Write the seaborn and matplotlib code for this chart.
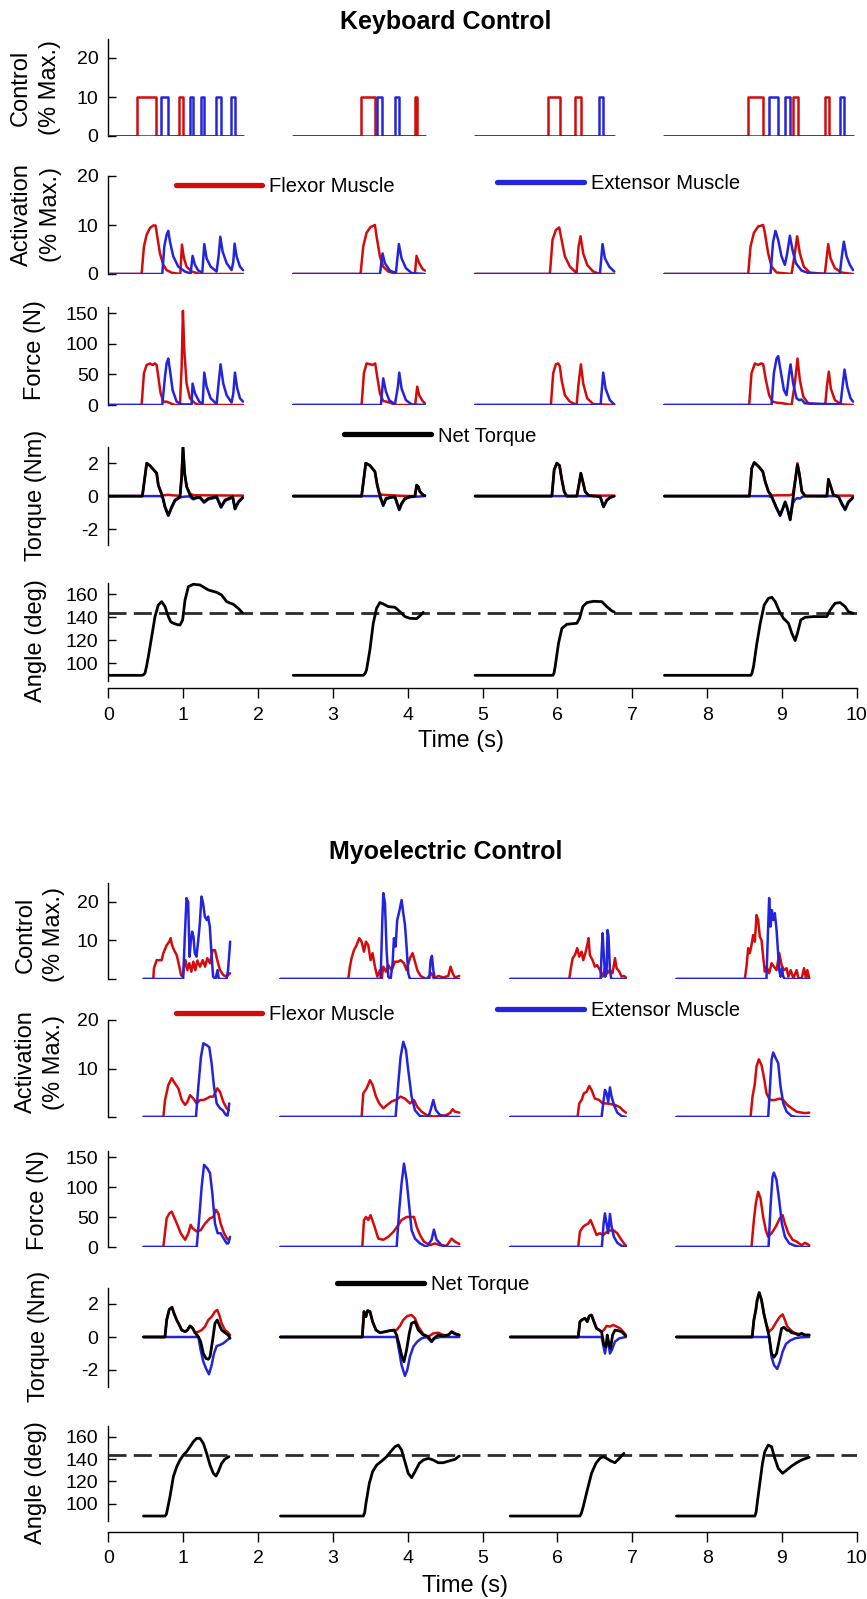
import matplotlib
matplotlib.use("Agg")
import matplotlib.pyplot as plt
import numpy as np
import pandas as pd
import seaborn as sns
from matplotlib.lines import Line2D

# ---------------------------------------------------------------- data
TIME_TICKS = [0, 1, 2, 3, 4, 5, 6, 7, 8, 9, 10]
KB_TRIALS = [(0.0, 1.80), (2.47, 4.23), (4.90, 6.76), (7.43, 9.95)]
MY_TRIALS = [(0.47, 1.63), (2.30, 4.69), (5.37, 6.92), (7.59, 9.36)]
KB_CTRL_LEVEL = 10
KB_TARGET_ANGLE = 144.0
MY_TARGET_ANGLE = 143.5

# keyboard control pulses (on, off) in s
KB_CTRL_FLEX = [[(0.378, 0.632), (0.948, 0.993)],
                [(3.370, 3.562), (4.100, 4.127)],
                [(5.877, 6.029), (6.238, 6.309)],
                [(8.549, 8.749), (9.141, 9.217), (9.573, 9.626)]]
KB_CTRL_EXT = [[(0.703, 0.793), (1.091, 1.126), (1.238, 1.278), (1.434, 1.500), (1.638, 1.692)],
               [(3.584, 3.660), (3.833, 3.878)],
               [(6.558, 6.612)],
               [(8.829, 8.949), (9.039, 9.106), (9.769, 9.827)]]

# keyboard activation (% max)
KB_ACT_FLEX_1 = [(0, 0), (0.445, 0), (0.476, 5.6), (0.512, 8.0), (0.557, 9.4), (0.601, 9.9), (0.632, 9.9), (0.654, 7.7), (0.69, 4.2), (0.735, 1.85), (0.779, 0.8), (0.846, 0.27), (0.962, 0), (0.984, 6.0), (1.011, 3.2), (1.046, 1.5), (1.113, 0.5), (1.224, 0), (1.80, 0)]
KB_ACT_EXT_1 = [(0, 0), (0.721, 0), (0.748, 5.6), (0.779, 8.0), (0.801, 8.8), (0.824, 6.6), (0.868, 3.6), (0.935, 1.5), (1.024, 0.5), (1.1, 0.1), (1.126, 3.7), (1.158, 1.85), (1.202, 0.7), (1.256, 0.3), (1.282, 6.1), (1.313, 3.2), (1.367, 1.5), (1.447, 0.5), (1.478, 4.2), (1.496, 7.6), (1.527, 4.6), (1.581, 2.2), (1.647, 0.8), (1.67, 2.5), (1.687, 6.2), (1.714, 3.6), (1.759, 1.5), (1.80, 0.8)]
KB_ACT_FLEX_2 = [(2.47, 0), (3.37, 0), (3.406, 5.6), (3.45, 8.4), (3.504, 9.6), (3.562, 10.0), (3.584, 7.7), (3.629, 3.6), (3.673, 1.5), (3.74, 0.5), (3.851, 0), (4.096, 0), (4.118, 3.7), (4.154, 2.2), (4.199, 1.0), (4.23, 0.7)]
KB_ACT_EXT_2 = [(2.47, 0), (3.629, 0), (3.664, 4.2), (3.695, 2.2), (3.762, 0.7), (3.842, 0.2), (3.882, 6.1), (3.918, 3.2), (3.976, 1.2), (4.052, 0.2), (4.23, 0)]
KB_ACT_FLEX_3 = [(4.90, 0), (5.90, 0), (5.935, 7.0), (5.98, 9.0), (6.024, 9.5), (6.056, 7.0), (6.1, 3.6), (6.167, 1.5), (6.234, 0.5), (6.256, 0.2), (6.283, 5.6), (6.309, 7.7), (6.345, 4.2), (6.398, 1.85), (6.478, 0.5), (6.568, 0), (6.76, 0)]
KB_ACT_EXT_3 = [(4.90, 0), (6.568, 0), (6.603, 6.1), (6.635, 3.2), (6.693, 1.5), (6.76, 0.5)]
KB_ACT_FLEX_4 = [(7.43, 0), (8.549, 0), (8.58, 5.6), (8.625, 8.4), (8.682, 9.7), (8.749, 10.0), (8.772, 8.4), (8.816, 4.2), (8.861, 1.5), (8.928, 0.3), (9.128, 0), (9.172, 4.2), (9.203, 7.7), (9.239, 4.2), (9.292, 1.5), (9.372, 0.3), (9.573, 0), (9.618, 6.1), (9.649, 3.2), (9.707, 1.2), (9.796, 0.3), (9.95, 0)]
KB_ACT_EXT_4 = [(7.43, 0), (8.847, 0), (8.882, 6.6), (8.914, 8.8), (8.949, 7.0), (8.994, 3.6), (9.039, 1.85), (9.07, 4.2), (9.106, 7.8), (9.141, 4.9), (9.186, 2.2), (9.262, 0.7), (9.372, 0.1), (9.773, 0), (9.8, 3.6), (9.827, 6.6), (9.863, 3.6), (9.908, 1.85), (9.95, 0.8)]

# keyboard force (N)
KB_FORCE_FLEX_1 = [(0, 0), (0.445, 0), (0.476, 52), (0.512, 65.5), (0.557, 68), (0.592, 65.5), (0.623, 68), (0.646, 65.5), (0.668, 46), (0.699, 19), (0.735, 5.5), (0.779, 5.5), (0.833, 2.7), (0.89, 0), (0.957, 0), (0.98, 63), (0.997, 154), (1.015, 90), (1.046, 35), (1.091, 11), (1.158, 2.7), (1.224, 0), (1.80, 0)]
KB_FORCE_EXT_1 = [(0, 0), (0.721, 0), (0.757, 46), (0.779, 68), (0.801, 76), (0.824, 57), (0.859, 24.5), (0.913, 5.5), (0.98, 1), (1.113, 1), (1.126, 35), (1.158, 19), (1.215, 5.5), (1.26, 1.5), (1.282, 53), (1.313, 30), (1.367, 11), (1.447, 1.5), (1.473, 35), (1.5, 66.5), (1.536, 35), (1.581, 16), (1.647, 4), (1.67, 19), (1.692, 53), (1.723, 27), (1.759, 11), (1.80, 5.5)]
KB_FORCE_FLEX_2 = [(2.47, 0), (3.384, 0), (3.415, 52), (3.45, 68), (3.504, 66.5), (3.53, 65.5), (3.566, 68), (3.593, 46), (3.629, 19), (3.673, 6.5), (3.718, 5.5), (3.785, 2.7), (3.851, 0), (4.1, 0), (4.127, 30), (4.154, 16), (4.199, 6.5), (4.23, 2.7)]
KB_FORCE_EXT_2 = [(2.47, 0), (3.642, 0), (3.673, 43.6), (3.709, 22), (3.753, 8), (3.829, 1), (3.869, 30), (3.887, 53), (3.918, 27), (3.976, 8), (4.052, 1), (4.23, 0)]
KB_FORCE_FLEX_3 = [(4.90, 0), (5.913, 0), (5.944, 52), (5.98, 67), (6.011, 68), (6.033, 63), (6.056, 41), (6.1, 16), (6.167, 5.5), (6.256, 0), (6.283, 35), (6.314, 66.5), (6.345, 35), (6.398, 11), (6.478, 1.5), (6.76, 0)]
KB_FORCE_EXT_3 = [(4.90, 0), (6.577, 0), (6.612, 53), (6.643, 27), (6.701, 8), (6.76, 1)]
KB_FORCE_FLEX_4 = [(7.43, 0), (8.562, 0), (8.593, 52), (8.638, 68), (8.682, 65.5), (8.718, 68), (8.749, 67), (8.785, 41), (8.829, 16), (8.874, 5.5), (8.928, 3.8), (9.017, 2.7), (9.128, 0), (9.172, 35), (9.208, 76), (9.239, 41), (9.284, 14), (9.351, 2.7), (9.578, 0), (9.6, 30), (9.626, 54.5), (9.653, 27), (9.707, 8), (9.796, 1), (9.95, 0)]
KB_FORCE_EXT_4 = [(7.43, 0), (8.861, 0), (8.892, 52), (8.928, 76), (8.95, 80), (8.981, 57), (9.026, 24.5), (9.061, 16), (9.097, 52), (9.115, 66.5), (9.15, 35), (9.195, 11), (9.23, 8), (9.262, 9), (9.306, 2.7), (9.782, 1), (9.809, 30), (9.836, 58), (9.872, 30), (9.916, 11), (9.95, 5.5)]

# keyboard torque (Nm)
KB_TORQ_FLEX_1 = [(0, 0), (0.455, 0), (0.513, 2.0), (0.557, 1.85), (0.624, 1.5), (0.646, 1.4), (0.668, 0.67), (0.70, 0.27), (0.726, 0.05), (0.758, 0.06), (0.80, 0.08), (0.85, 0.05), (0.958, 0.02), (0.980, 1.18), (0.998, 2.98), (1.020, 1.37), (1.047, 0.57), (1.092, 0.15), (1.136, 0.06), (1.2, 0.05), (1.80, 0.03)]
KB_TORQ_EXT_1 = [(0, 0), (0.70, 0), (0.726, -0.1), (0.758, -0.7), (0.802, -1.2), (0.847, -0.7), (0.891, -0.3), (0.958, -0.08), (1.02, -0.03), (1.092, -0.02), (1.11, -0.12), (1.136, -0.2), (1.181, -0.12), (1.225, -0.1), (1.279, -0.4), (1.336, -0.2), (1.448, -0.08), (1.506, -0.7), (1.559, -0.3), (1.662, -0.08), (1.693, -0.8), (1.737, -0.4), (1.795, -0.12)]
KB_TORQ_NET_1 = [(0, 0), (0.455, 0), (0.513, 2.0), (0.557, 1.85), (0.624, 1.5), (0.646, 1.4), (0.668, 0.67), (0.70, 0.27), (0.726, -0.04), (0.758, -0.65), (0.802, -1.16), (0.847, -0.65), (0.891, -0.24), (0.958, -0.04), (0.980, 1.18), (0.998, 2.98), (1.020, 1.37), (1.047, 0.57), (1.092, 0.06), (1.136, -0.14), (1.181, -0.08), (1.225, -0.08), (1.279, -0.35), (1.336, -0.14), (1.448, -0.04), (1.506, -0.65), (1.559, -0.24), (1.662, -0.04), (1.693, -0.76), (1.737, -0.35), (1.795, -0.08)]
KB_TORQ_FLEX_2 = [(2.47, 0), (3.384, 0), (3.44, 2.0), (3.495, 1.86), (3.562, 1.49), (3.593, 0.67), (3.62, 0.2), (3.65, 0.08), (3.75, 0.06), (3.9, 0.02), (4.097, 0), (4.12, 0.67), (4.141, 0.57), (4.163, 0.27), (4.207, 0.06), (4.23, 0.03)]
KB_TORQ_EXT_2 = [(2.47, 0), (3.62, 0), (3.65, -0.3), (3.673, -0.6), (3.709, -0.2), (3.763, -0.1), (3.83, -0.05), (3.86, -0.5), (3.887, -0.85), (3.918, -0.5), (3.963, -0.18), (4.03, -0.06), (4.23, 0)]
KB_TORQ_NET_2 = [(2.47, 0), (3.384, 0), (3.44, 2.0), (3.495, 1.86), (3.562, 1.49), (3.593, 0.67), (3.62, 0.16), (3.65, -0.24), (3.673, -0.55), (3.709, -0.14), (3.763, -0.08), (3.83, -0.04), (3.86, -0.45), (3.887, -0.8), (3.918, -0.45), (3.963, -0.14), (4.03, -0.04), (4.097, 0), (4.12, 0.67), (4.141, 0.57), (4.163, 0.27), (4.207, 0.06), (4.23, 0.03)]
KB_TORQ_FLEX_3 = [(4.90, 0), (5.926, 0), (5.957, 1.6), (5.993, 2.0), (6.028, 1.86), (6.06, 0.98), (6.091, 0.27), (6.126, 0), (6.26, 0), (6.291, 0.78), (6.313, 1.39), (6.34, 0.88), (6.371, 0.27), (6.416, 0.04), (6.5, 0.03), (6.759, 0.03)]
KB_TORQ_EXT_3 = [(4.90, 0), (6.572, 0), (6.616, -0.65), (6.66, -0.25), (6.705, -0.08), (6.759, 0)]
KB_TORQ_NET_3 = [(4.90, 0), (5.926, 0), (5.957, 1.6), (5.993, 2.0), (6.028, 1.86), (6.06, 0.98), (6.091, 0.27), (6.126, 0), (6.26, 0), (6.291, 0.78), (6.313, 1.39), (6.34, 0.88), (6.371, 0.27), (6.416, 0.04), (6.572, -0.04), (6.616, -0.65), (6.66, -0.25), (6.705, -0.08), (6.759, 0)]
KB_TORQ_FLEX_4 = [(7.43, 0), (8.566, 0), (8.597, 1.7), (8.63, 2.04), (8.688, 1.8), (8.744, 1.49), (8.776, 0.88), (8.82, 0.27), (8.865, 0.04), (8.95, 0.05), (9.1, 0.05), (9.145, 0.1), (9.176, 0.95), (9.207, 2.0), (9.234, 1.35), (9.266, 0.3), (9.31, 0.02), (9.6, 0), (9.621, 1.02), (9.653, 0.57), (9.688, 0.06), (9.755, 0.03), (9.95, 0.03)]
KB_TORQ_EXT_4 = [(7.43, 0), (8.82, 0), (8.865, -0.08), (8.922, -0.7), (8.976, -1.2), (9.01, -0.8), (9.043, -0.4), (9.074, -0.8), (9.11, -1.45), (9.145, -0.45), (9.176, -0.2), (9.207, -0.12), (9.24, -0.15), (9.27, -0.05), (9.31, 0), (9.755, 0), (9.80, -0.5), (9.844, -0.85), (9.888, -0.4), (9.947, -0.12)]
KB_TORQ_NET_4 = [(7.43, 0), (8.566, 0), (8.597, 1.7), (8.63, 2.04), (8.688, 1.8), (8.744, 1.49), (8.776, 0.88), (8.82, 0.27), (8.865, -0.04), (8.922, -0.65), (8.976, -1.16), (9.01, -0.76), (9.043, -0.35), (9.074, -0.76), (9.11, -1.43), (9.145, -0.24), (9.176, 0.88), (9.207, 1.9), (9.234, 1.29), (9.266, 0.27), (9.31, 0), (9.6, 0), (9.621, 1.02), (9.653, 0.57), (9.688, 0.06), (9.755, -0.04), (9.80, -0.45), (9.844, -0.8), (9.888, -0.35), (9.947, -0.08)]

# keyboard elbow angle (deg)
KB_ANGLE_1 = [(0, 89.5), (0.446, 89.5), (0.47, 90.0), (0.49, 91.3), (0.51, 97.0), (0.535, 105.8), (0.58, 123.2), (0.624, 140.6), (0.668, 150.7), (0.713, 153.6), (0.758, 149.3), (0.802, 140.6), (0.835, 136.0), (0.869, 134.8), (0.93, 133.5), (0.958, 133.3), (0.993, 137.7), (1.025, 155.0), (1.07, 166.7), (1.136, 168.7), (1.225, 168.1), (1.336, 163.8), (1.448, 161.7), (1.514, 159.4), (1.581, 153.6), (1.67, 151.3), (1.737, 147.8), (1.79, 144.1)]
KB_ANGLE_2 = [(2.47, 89.5), (3.406, 89.5), (3.43, 91.0), (3.45, 94.2), (3.495, 111.6), (3.54, 134.8), (3.584, 147.8), (3.628, 152.8), (3.673, 151.6), (3.74, 149.3), (3.83, 148.7), (3.896, 144.9), (3.963, 140.6), (4.03, 139.1), (4.119, 138.8), (4.163, 141.2), (4.207, 144.3)]
KB_ANGLE_3 = [(4.90, 89.5), (5.94, 89.5), (5.955, 91.5), (5.97, 97.1), (6.015, 117.4), (6.06, 130.4), (6.126, 133.9), (6.26, 134.8), (6.296, 139.1), (6.34, 149.3), (6.394, 152.8), (6.483, 153.9), (6.594, 153.6), (6.66, 149.3), (6.728, 145.5), (6.759, 144.6)]
KB_ANGLE_4 = [(7.43, 89.5), (8.585, 89.5), (8.60, 91.5), (8.62, 97.1), (8.665, 117.4), (8.71, 134.8), (8.763, 150.7), (8.82, 156.5), (8.865, 157.4), (8.91, 153.6), (8.968, 144.9), (9.02, 139.1), (9.087, 134.8), (9.132, 126.1), (9.176, 119.7), (9.207, 126.1), (9.252, 137.7), (9.31, 140.0), (9.421, 140.6), (9.6, 140.6), (9.644, 146.4), (9.71, 152.2), (9.777, 152.8), (9.844, 149.3), (9.888, 144.9), (9.947, 143.5)]

# myoelectric control (% max)
MY_CTRL_FLEX_1 = [(0.47, 0), (0.601, 0), (0.61, 2.8), (0.646, 4.9), (0.713, 4.9), (0.735, 6.7), (0.78, 8.8), (0.815, 9.7), (0.833, 10.6), (0.851, 8.8), (0.878, 7.5), (0.914, 6.2), (0.949, 3.2), (0.972, 1.0), (0.994, 0.6), (1.012, 3.2), (1.03, 4.9), (1.056, 2.3), (1.083, 4.1), (1.11, 1.9), (1.136, 4.5), (1.163, 2.3), (1.19, 4.8), (1.225, 3.2), (1.261, 4.9), (1.292, 3.2), (1.323, 5.4), (1.359, 4.1), (1.394, 7.5), (1.425, 7.5), (1.456, 4.9), (1.492, 2.3), (1.537, 1.0), (1.581, 0.6), (1.626, 1.5)]
MY_CTRL_EXT_1 = [(0.47, 0), (1.0, 0), (1.022, 11), (1.045, 21), (1.067, 20), (1.085, 5.8), (1.103, 10), (1.12, 12.3), (1.138, 11), (1.156, 6.7), (1.178, 5.8), (1.2, 9.7), (1.223, 14.5), (1.245, 21.4), (1.267, 19.6), (1.29, 16.2), (1.316, 15.3), (1.334, 16.2), (1.356, 13.6), (1.378, 6.7), (1.4, 0.6), (1.432, 0), (1.459, 2.3), (1.476, 0), (1.579, 0), (1.6, 2.3), (1.628, 9.7)]
MY_CTRL_FLEX_2 = [(2.30, 0), (3.206, 0), (3.228, 3.2), (3.25, 5.4), (3.282, 7.5), (3.317, 8.8), (3.353, 10.6), (3.384, 9.7), (3.416, 7.1), (3.442, 9.7), (3.473, 8.8), (3.504, 4.9), (3.531, 6.7), (3.562, 3.2), (3.594, 0.6), (3.63, 2.3), (3.652, 0), (3.674, 3.2), (3.709, 1.9), (3.74, 3.6), (3.785, 2.3), (3.83, 4.5), (3.874, 4.5), (3.905, 4.9), (3.95, 4.1), (3.985, 2.3), (4.03, 5.4), (4.065, 6.7), (4.097, 4.5), (4.128, 2.3), (4.172, 0.8), (4.208, 0.4), (4.253, 0), (4.319, 1.5), (4.35, 0), (4.408, 0.8), (4.475, 0.4), (4.542, 0.8), (4.573, 3.2), (4.6, 1.5), (4.631, 0.4), (4.689, 0.8)]
MY_CTRL_EXT_2 = [(2.30, 0), (3.638, 0), (3.661, 15.3), (3.674, 22.3), (3.696, 19.7), (3.718, 7.5), (3.74, 0.6), (3.772, 0), (3.798, 4.1), (3.816, 10.6), (3.838, 8.4), (3.86, 15.3), (3.887, 17.5), (3.918, 20.5), (3.941, 17.1), (3.963, 14.1), (3.985, 8.4), (4.007, 1.5), (4.03, 0), (4.288, 0), (4.306, 4.9), (4.324, 6.0), (4.342, 2.3), (4.364, 0), (4.689, 0)]
MY_CTRL_FLEX_3 = [(5.37, 0), (6.158, 0), (6.176, 2.3), (6.203, 5.4), (6.234, 6.2), (6.265, 8.0), (6.292, 5.8), (6.323, 7.1), (6.345, 4.9), (6.372, 6.6), (6.399, 8.8), (6.416, 10.6), (6.434, 6.2), (6.47, 4.9), (6.501, 3.2), (6.532, 3.6), (6.568, 2.3), (6.604, 0.6), (6.639, 3.2), (6.666, 1.5), (6.702, 2.3), (6.737, 1.5), (6.769, 5.4), (6.791, 2.8), (6.827, 1.9), (6.858, 0.6), (6.889, 0.8), (6.915, 0.4)]
MY_CTRL_EXT_3 = [(5.37, 0), (6.577, 0), (6.59, 6.6), (6.604, 11.9), (6.621, 5.8), (6.639, 0.6), (6.657, 1.5), (6.67, 12.7), (6.683, 11.0), (6.702, 2.3), (6.72, 0), (6.915, 0)]
MY_CTRL_FLEX_4 = [(7.59, 0), (8.504, 0), (8.526, 3.2), (8.549, 8.0), (8.571, 6.7), (8.593, 8.8), (8.615, 11.4), (8.638, 9.7), (8.66, 16.6), (8.682, 15.3), (8.704, 11.0), (8.727, 10.1), (8.749, 5.8), (8.771, 1.9), (8.793, 3.2), (8.829, 1.5), (8.861, 4.1), (8.893, 3.2), (8.928, 2.3), (8.964, 6.7), (8.995, 3.6), (9.027, 2.3), (9.063, 2.8), (9.085, 0.6), (9.117, 2.3), (9.152, 0.2), (9.197, 2.3), (9.219, 0.2), (9.264, 0.2), (9.295, 2.8), (9.321, 0.2), (9.339, 2.3), (9.364, 0.2)]
MY_CTRL_EXT_4 = [(7.59, 0), (8.793, 0), (8.811, 11.0), (8.829, 21.0), (8.847, 13.6), (8.865, 17.9), (8.883, 15.3), (8.905, 17.1), (8.928, 12.7), (8.946, 7.5), (8.964, 2.3), (8.982, 0.6), (9.0, 2.8), (9.018, 0.6), (9.04, 0), (9.364, 0)]

# myoelectric activation (% max)
MY_ACT_FLEX_1 = [(0.47, 0), (0.735, 0), (0.758, 3.5), (0.802, 6.6), (0.847, 8.0), (0.891, 6.9), (0.936, 5.9), (0.981, 3.5), (1.026, 2.5), (1.056, 3.1), (1.092, 4.5), (1.136, 3.8), (1.181, 2.8), (1.225, 3.5), (1.27, 3.5), (1.314, 3.8), (1.359, 4.2), (1.403, 4.2), (1.456, 5.9), (1.492, 5.2), (1.537, 3.1), (1.581, 1.8), (1.612, 1.4)]
MY_ACT_EXT_1 = [(0.47, 0), (1.171, 0), (1.203, 6.3), (1.238, 12.4), (1.27, 15.2), (1.314, 14.8), (1.349, 14.4), (1.38, 11.1), (1.412, 6.3), (1.448, 2.8), (1.492, 1.8), (1.528, 1.4), (1.572, 0.4), (1.594, 0.3), (1.616, 2.8)]
MY_ACT_FLEX_2 = [(2.30, 0), (3.384, 0), (3.407, 4.9), (3.451, 5.9), (3.496, 7.6), (3.531, 6.6), (3.576, 4.2), (3.62, 2.8), (3.674, 1.8), (3.727, 2.5), (3.785, 3.2), (3.852, 3.6), (3.905, 4.2), (3.963, 3.8), (4.03, 2.8), (4.084, 3.5), (4.128, 2.1), (4.186, 1.1), (4.253, 0.4), (4.342, 0.1), (4.431, 0.2), (4.498, 0.3), (4.565, 0.8), (4.6, 1.6), (4.631, 1.1), (4.689, 0.9)]
MY_ACT_EXT_2 = [(2.30, 0), (3.838, 0), (3.874, 6.9), (3.905, 12.4), (3.941, 15.5), (3.977, 13.8), (4.007, 9.7), (4.052, 4.2), (4.097, 1.4), (4.163, 0.2), (4.275, 0), (4.306, 1.4), (4.342, 3.5), (4.377, 1.4), (4.431, 0.4), (4.565, 0), (4.689, 0)]
MY_ACT_FLEX_3 = [(5.37, 0), (6.269, 0), (6.292, 2.8), (6.323, 3.5), (6.354, 4.9), (6.39, 5.2), (6.425, 6.4), (6.456, 5.6), (6.501, 3.8), (6.559, 3.5), (6.604, 2.8), (6.648, 2.8), (6.702, 2.7), (6.769, 2.5), (6.836, 2.0), (6.88, 1.3), (6.915, 0.9)]
MY_ACT_EXT_3 = [(5.37, 0), (6.59, 0), (6.612, 2.8), (6.635, 5.6), (6.657, 4.9), (6.679, 3.1), (6.702, 6.1), (6.724, 4.2), (6.755, 2.5), (6.8, 0.9), (6.858, 0.2), (6.915, 0)]
MY_ACT_FLEX_4 = [(7.59, 0), (8.58, 0), (8.607, 4.2), (8.638, 6.9), (8.66, 10.4), (8.691, 11.9), (8.727, 10.7), (8.758, 8.3), (8.793, 4.9), (8.838, 3.5), (8.905, 3.5), (8.972, 3.8), (9.018, 3.5), (9.071, 2.5), (9.129, 1.8), (9.196, 1.1), (9.263, 0.9), (9.308, 0.8), (9.364, 0.9)]
MY_ACT_EXT_4 = [(7.59, 0), (8.816, 0), (8.838, 5.6), (8.861, 11.8), (8.883, 13.3), (8.918, 12.1), (8.95, 11.1), (8.981, 6.3), (9.018, 2.8), (9.063, 1.1), (9.129, 0.2), (9.196, 0), (9.364, 0)]

# myoelectric force (N)
MY_FORCE_FLEX_1 = [(0.47, 0), (0.735, 0), (0.78, 48), (0.815, 56), (0.847, 59), (0.878, 50), (0.923, 37), (0.967, 23), (1.026, 12), (1.07, 23), (1.1, 37), (1.127, 31), (1.181, 26), (1.234, 28), (1.292, 39), (1.359, 48), (1.403, 50), (1.438, 62), (1.47, 56), (1.501, 39), (1.546, 23), (1.59, 13), (1.616, 12)]
MY_FORCE_EXT_1 = [(0.47, 0), (1.181, 0), (1.216, 50), (1.247, 100), (1.279, 137), (1.323, 131), (1.359, 123), (1.39, 89), (1.425, 39), (1.461, 23), (1.501, 23), (1.528, 17), (1.581, 6), (1.603, 6), (1.626, 17)]
MY_FORCE_FLEX_2 = [(2.30, 0), (3.393, 0), (3.416, 45), (3.442, 50), (3.473, 45), (3.504, 53), (3.549, 37), (3.607, 14), (3.674, 12), (3.74, 17), (3.807, 25), (3.86, 34), (3.918, 45), (3.985, 50), (4.039, 50), (4.084, 50), (4.119, 34), (4.164, 20), (4.217, 9), (4.297, 3), (4.364, 6), (4.431, 3), (4.52, 2), (4.587, 14), (4.631, 9), (4.689, 5)]
MY_FORCE_EXT_2 = [(2.30, 0), (3.852, 0), (3.887, 62), (3.918, 106), (3.95, 139), (3.985, 112), (4.021, 67), (4.052, 28), (4.097, 14), (4.164, 6), (4.253, 0), (4.319, 12), (4.35, 29), (4.386, 12), (4.453, 3), (4.53, 0), (4.689, 0)]
MY_FORCE_FLEX_3 = [(5.37, 0), (6.278, 0), (6.301, 25.5), (6.345, 34), (6.381, 37), (6.412, 39), (6.443, 45), (6.479, 34), (6.523, 20), (6.568, 23), (6.612, 20), (6.679, 27), (6.746, 28), (6.8, 23), (6.844, 14), (6.889, 6), (6.915, 2)]
MY_FORCE_EXT_3 = [(5.37, 0), (6.594, 0), (6.617, 39), (6.635, 56), (6.657, 39), (6.679, 23), (6.702, 55), (6.724, 34), (6.755, 17), (6.8, 7), (6.858, 2), (6.915, 0)]
MY_FORCE_FLEX_4 = [(7.59, 0), (8.593, 0), (8.625, 45), (8.651, 73), (8.682, 92), (8.714, 81), (8.749, 50), (8.785, 28), (8.816, 17), (8.861, 23), (8.918, 34), (8.972, 48), (9.009, 53), (9.04, 39), (9.085, 23), (9.143, 12), (9.196, 9), (9.263, 3), (9.308, 7), (9.364, 3)]
MY_FORCE_EXT_4 = [(7.59, 0), (8.821, 0), (8.847, 67), (8.874, 117), (8.892, 124), (8.927, 112), (8.963, 78), (8.999, 39), (9.04, 17), (9.098, 6), (9.174, 2), (9.25, 0), (9.364, 0)]

# myoelectric torque (Nm)
MY_TORQ_FLEX_1 = [(0.47, 0), (0.757, 0), (0.78, 1.03), (0.815, 1.68), (0.851, 1.8), (0.878, 1.43), (0.914, 1.03), (0.949, 0.73), (0.981, 0.42), (1.026, 0.32), (1.056, 0.42), (1.092, 0.67), (1.127, 0.53), (1.158, 0.26), (1.203, 0.32), (1.247, 0.42), (1.292, 0.63), (1.336, 1.03), (1.381, 1.23), (1.425, 1.54), (1.456, 1.64), (1.483, 1.33), (1.514, 0.83), (1.559, 0.42), (1.603, 0.26), (1.626, 0.12)]
MY_TORQ_EXT_1 = [(0.47, 0), (1.203, 0), (1.234, -0.79), (1.27, -1.5), (1.305, -1.9), (1.345, -2.26), (1.381, -1.7), (1.412, -1.0), (1.448, -0.55), (1.492, -0.48), (1.537, -0.38), (1.581, -0.22), (1.626, -0.04)]
MY_TORQ_NET_1 = [(0.47, 0), (0.757, 0), (0.78, 1.03), (0.815, 1.68), (0.851, 1.8), (0.878, 1.43), (0.914, 1.03), (0.949, 0.73), (0.981, 0.42), (1.026, 0.32), (1.056, 0.42), (1.092, 0.67), (1.127, 0.53), (1.158, 0.26), (1.203, 0.02), (1.234, -0.28), (1.27, -1.0), (1.305, -1.3), (1.336, -1.35), (1.359, -1.2), (1.394, -0.18), (1.425, 0.83), (1.456, 1.03), (1.483, 0.73), (1.514, 0.42), (1.559, 0.26), (1.603, 0.12), (1.626, -0.08)]
MY_TORQ_FLEX_2 = [(2.30, 0), (3.393, 0), (3.416, 1.54), (3.442, 1.23), (3.464, 1.6), (3.496, 1.54), (3.531, 0.93), (3.576, 0.42), (3.63, 0.26), (3.697, 0.32), (3.755, 0.38), (3.817, 0.42), (3.852, 0.42), (3.896, 0.67), (3.94, 1.03), (3.994, 1.27), (4.052, 1.33), (4.097, 1.13), (4.142, 0.63), (4.208, 0.18), (4.275, 0.02), (4.342, 0.22), (4.408, 0.26), (4.475, 0.12), (4.542, 0.12), (4.587, 0.32), (4.689, 0.12)]
MY_TORQ_EXT_2 = [(2.30, 0), (3.852, 0), (3.887, -0.89), (3.918, -1.7), (3.963, -2.36), (3.994, -2.0), (4.03, -1.19), (4.075, -0.59), (4.128, -0.28), (4.186, -0.08), (4.253, 0), (4.319, -0.28), (4.364, -0.08), (4.431, 0), (4.689, 0)]
MY_TORQ_NET_2 = [(2.30, 0), (3.393, 0), (3.416, 1.54), (3.442, 1.23), (3.464, 1.6), (3.496, 1.54), (3.531, 0.93), (3.576, 0.42), (3.63, 0.26), (3.697, 0.32), (3.755, 0.38), (3.817, 0.42), (3.852, 0.12), (3.887, -0.48), (3.918, -1.09), (3.95, -1.5), (3.985, -0.79), (4.021, 0.22), (4.052, 0.83), (4.097, 0.93), (4.142, 0.42), (4.208, 0.12), (4.275, 0.02), (4.319, -0.28), (4.35, -0.08), (4.408, 0.12), (4.475, 0.06), (4.542, 0.12), (4.587, 0.32), (4.631, 0.18), (4.689, 0.12)]
MY_TORQ_FLEX_3 = [(5.37, 0), (6.278, 0), (6.301, 0.93), (6.337, 1.07), (6.368, 1.13), (6.399, 0.93), (6.425, 1.27), (6.456, 1.33), (6.488, 0.93), (6.523, 0.52), (6.559, 0.42), (6.59, 0.32), (6.621, 0.42), (6.657, 0.67), (6.702, 0.63), (6.746, 0.73), (6.791, 0.63), (6.836, 0.53), (6.88, 0.32), (6.915, 0.12)]
MY_TORQ_EXT_3 = [(5.37, 0), (6.59, 0), (6.612, -0.48), (6.635, -1.0), (6.657, -0.4), (6.675, -0.18), (6.702, -1.0), (6.728, -0.79), (6.769, -0.28), (6.827, -0.08), (6.915, 0)]
MY_TORQ_NET_3 = [(5.37, 0), (6.278, 0), (6.301, 0.93), (6.337, 1.07), (6.368, 1.13), (6.399, 0.93), (6.425, 1.27), (6.456, 1.33), (6.488, 0.93), (6.523, 0.52), (6.559, 0.42), (6.59, 0.32), (6.621, -0.48), (6.648, -0.59), (6.666, 0.12), (6.688, -0.42), (6.71, -0.69), (6.737, 0.12), (6.769, 0.42), (6.813, 0.38), (6.858, 0.32), (6.889, 0.18), (6.915, 0.06)]
MY_TORQ_FLEX_4 = [(7.59, 0), (8.602, 0), (8.625, 1.03), (8.651, 1.64), (8.669, 2.24), (8.696, 2.69), (8.727, 2.24), (8.758, 1.43), (8.793, 0.73), (8.829, 0.32), (8.874, 0.52), (8.928, 0.93), (8.972, 1.23), (9.009, 1.37), (9.04, 1.03), (9.071, 0.63), (9.116, 0.42), (9.174, 0.22), (9.241, 0.18), (9.308, 0.12), (9.364, 0.12)]
MY_TORQ_EXT_4 = [(7.59, 0), (8.829, 0), (8.861, -1.19), (8.893, -1.7), (8.937, -1.94), (8.972, -1.5), (9.009, -0.89), (9.054, -0.42), (9.107, -0.22), (9.174, -0.08), (9.25, -0.02), (9.364, 0)]
MY_TORQ_NET_4 = [(7.59, 0), (8.602, 0), (8.625, 1.03), (8.651, 1.64), (8.669, 2.24), (8.696, 2.69), (8.727, 2.24), (8.758, 1.43), (8.793, 0.73), (8.829, 0.02), (8.861, -1.0), (8.893, -1.23), (8.928, -1.0), (8.964, -0.18), (8.995, 0.52), (9.027, 0.59), (9.063, 0.42), (9.098, 0.38), (9.129, 0.26), (9.174, 0.22), (9.219, 0.12), (9.263, 0.22), (9.308, 0.12), (9.364, 0.12)]

# myoelectric elbow angle (deg)
MY_ANGLE_1 = [(0.47, 89), (0.757, 89), (0.775, 90.5), (0.788, 94.3), (0.824, 106.3), (0.869, 124.2), (0.914, 133.1), (0.958, 139.1), (1.003, 143.6), (1.047, 146.6), (1.092, 151), (1.136, 155.5), (1.181, 158.5), (1.225, 158.5), (1.27, 154), (1.314, 145.1), (1.359, 134.6), (1.403, 127.2), (1.439, 124.8), (1.47, 128.7), (1.514, 136.1), (1.559, 140), (1.612, 142.1)]
MY_ANGLE_2 = [(2.30, 89), (3.407, 89), (3.425, 92.0), (3.442, 100.3), (3.487, 118.2), (3.531, 128.7), (3.585, 134.6), (3.652, 138.2), (3.719, 142.1), (3.772, 146.6), (3.83, 151), (3.874, 152.5), (3.918, 148.1), (3.963, 137.6), (4.007, 127.2), (4.052, 123.3), (4.097, 128.7), (4.155, 136.1), (4.208, 139.1), (4.275, 140.6), (4.342, 139.1), (4.408, 136.7), (4.475, 136.7), (4.565, 138.5), (4.631, 139.7), (4.689, 142.7)]
MY_ANGLE_3 = [(5.37, 89), (6.301, 89), (6.32, 91.5), (6.345, 97.3), (6.399, 112.2), (6.456, 127.2), (6.514, 136.1), (6.568, 140.6), (6.612, 142.1), (6.657, 140.6), (6.715, 138.2), (6.769, 136.7), (6.827, 140.6), (6.889, 145.1)]
MY_ANGLE_4 = [(7.59, 89), (8.638, 89), (8.655, 92.5), (8.669, 100.3), (8.704, 118.2), (8.74, 136.1), (8.771, 146.6), (8.816, 152.5), (8.861, 151), (8.905, 140.6), (8.95, 131.6), (9.009, 127.2), (9.063, 130.1), (9.129, 133.7), (9.196, 136.7), (9.263, 139.1), (9.321, 140.6), (9.364, 141.5)]

# ---------------------------------------------------------------- style
RED = "#d40b0b"
BLUE = "#2424dc"
BLACK = "#000000"
DASH = "#2b2b2b"

sns.set_theme(style="white")
plt.rcParams["font.family"] = ["Liberation Sans", "DejaVu Sans"]
plt.rcParams["axes.unicode_minus"] = False
plt.rcParams["text.color"] = "black"
plt.rcParams["axes.labelcolor"] = "black"
plt.rcParams["xtick.color"] = "black"
plt.rcParams["ytick.color"] = "black"

W, H = 867, 1599
fig = plt.figure(figsize=(W / 100, H / 100), dpi=100)
fig.patch.set_facecolor("white")

X0, X1 = 108.3, 856.8  # pixel columns of t=0 and t=10


def fx(px):
    return px / W


def fy(py):
    return 1 - py / H


def add_ax(top, bot):
    return fig.add_axes([fx(X0), fy(bot), (X1 - X0) / W, (bot - top) / H])


def draw(ax, trials, color, lw=1.8, z=2):
    rows = [(t, v, i) for i, tr in enumerate(trials) for t, v in tr]
    df = pd.DataFrame(rows, columns=["t", "v", "trial"])
    sns.lineplot(data=df, x="t", y="v", units="trial", estimator=None, sort=False,
                 color=color, linewidth=lw, ax=ax, legend=False, zorder=z)


def pulse_series(trials, pulses, level):
    out = []
    for (start, end), pl in zip(trials, pulses):
        pts = [(start, 0)]
        for on, off in pl:
            pts += [(on, 0), (on, level), (off, level), (off, 0)]
        pts.append((end, 0))
        out.append(pts)
    return out


def style_ax(ax, ylim, ticks, labels, ylabel, lab_xy, bottom=False, offset=0):
    ax.set_xlim(0, 10)
    ax.set_ylim(*ylim)
    ax.set_facecolor("none")
    for s in ["top", "right"]:
        ax.spines[s].set_visible(False)
    ax.spines["left"].set_color("black")
    ax.spines["left"].set_linewidth(1.0)
    ax.set_yticks(ticks)
    ax.set_yticklabels(labels)
    ax.tick_params(axis="y", direction="in", length=6, width=1.0, labelsize=14,
                   pad=7, colors="black", left=True)
    ax.set_ylabel(ylabel, fontsize=17, ha="center", va="center", linespacing=1.4,
                  color="black")
    ax.yaxis.set_label_coords(fx(lab_xy[0]), fy(lab_xy[1]), transform=fig.transFigure)
    if bottom:
        ax.spines["bottom"].set_visible(True)
        ax.spines["bottom"].set_color("black")
        ax.spines["bottom"].set_linewidth(1.0)
        ax.spines["bottom"].set_position(("outward", offset))
        ax.set_xticks(TIME_TICKS)
        ax.set_xticklabels([str(v) for v in TIME_TICKS])
        ax.tick_params(axis="x", direction="out", length=7, width=1.0, labelsize=14,
                       pad=6.5, colors="black", bottom=True)
    else:
        ax.spines["bottom"].set_visible(False)
        ax.set_xticks([])
        ax.set_xlabel("")
    ax.grid(False)


def panel(name, title_xy, rows, series, trials, target, xlabel_xy, offset,
          leg_pos, zero_labels):
    fig.text(fx(title_xy[0]), fy(title_xy[1]), name, ha="center", va="center",
             fontsize=18, fontweight="bold", color="black")
    (ctrl_flex, ctrl_ext), (act_flex, act_ext), (f_flex, f_ext), (t_flex, t_ext, t_net), angle = series
    axes = [add_ax(top, bot) for top, bot, *_ in rows]
    a_ctrl, a_act, a_force, a_torq, a_ang = axes
    draw(a_ctrl, ctrl_flex, RED)
    draw(a_ctrl, ctrl_ext, BLUE, z=3)
    draw(a_act, act_flex, RED)
    draw(a_act, act_ext, BLUE, z=3)
    draw(a_force, f_flex, RED)
    draw(a_force, f_ext, BLUE, z=3)
    draw(a_torq, t_flex, RED)
    draw(a_torq, t_ext, BLUE, z=3)
    draw(a_torq, t_net, BLACK, lw=2.0, z=4)
    draw(a_ang, angle, BLACK, lw=2.0, z=4)
    a_ang.axhline(target, color=DASH, lw=2.0, dashes=(6.5, 2.6), zorder=3)

    c0 = "0" if zero_labels else ""
    specs = [
        ((0, 25), [0, 10, 20], [c0, "10", "20"], "Control\n(% Max.)"),
        ((0, 20), [0, 10, 20], [c0, "10", "20"], "Activation\n(% Max.)"),
        ((0, 160), [0, 50, 100, 150], ["0", "50", "100", "150"], "Force (N)"),
        ((-3, 3), [-2, 0, 2], ["-2", "0", "2"], "Torque (Nm)"),
        ((85, 170), [100, 120, 140, 160], ["100", "120", "140", "160"], "Angle (deg)"),
    ]
    for i, (ax, (ylim, tk, tl, yl)) in enumerate(zip(axes, specs)):
        style_ax(ax, ylim, tk, tl, yl, rows[i][2], bottom=(i == 4), offset=offset)
    a_ang.set_xlabel("Time (s)", fontsize=17, va="center", color="black")
    a_ang.xaxis.set_label_coords(fx(xlabel_xy[0]), fy(xlabel_xy[1]), transform=fig.transFigure)

    for (label, color, x0, y0) in leg_pos:
        h = Line2D([], [], color=color, lw=3.8)
        fig.legend(handles=[h], labels=[label], loc="center left",
                   bbox_to_anchor=(fx(x0), fy(y0)), bbox_transform=fig.transFigure,
                   frameon=False, fontsize=14.5, handlelength=4.3, handletextpad=0.35,
                   borderpad=0, borderaxespad=0, labelcolor="black")


KB_ROWS = [(38.5, 136.0, (35.5, 87.5)),
           (176.0, 274.0, (36.5, 215.0)),
           (307.2, 405.0, (35.0, 350.0)),
           (446.7, 545.5, (36.0, 495.0)),
           (582.8, 680.5, (36.0, 641.0))]
MY_ROWS = [(882.7, 979.0, (40.0, 935.0)),
           (1020.0, 1117.0, (40.0, 1062.0)),
           (1151.0, 1247.0, (38.0, 1200.0)),
           (1287.5, 1386.5, (39.0, 1336.0)),
           (1425.5, 1520.5, (36.0, 1483.0))]

kb_series = (
    (pulse_series(KB_TRIALS, KB_CTRL_FLEX, KB_CTRL_LEVEL), pulse_series(KB_TRIALS, KB_CTRL_EXT, KB_CTRL_LEVEL)),
    ([KB_ACT_FLEX_1, KB_ACT_FLEX_2, KB_ACT_FLEX_3, KB_ACT_FLEX_4], [KB_ACT_EXT_1, KB_ACT_EXT_2, KB_ACT_EXT_3, KB_ACT_EXT_4]),
    ([KB_FORCE_FLEX_1, KB_FORCE_FLEX_2, KB_FORCE_FLEX_3, KB_FORCE_FLEX_4], [KB_FORCE_EXT_1, KB_FORCE_EXT_2, KB_FORCE_EXT_3, KB_FORCE_EXT_4]),
    ([KB_TORQ_FLEX_1, KB_TORQ_FLEX_2, KB_TORQ_FLEX_3, KB_TORQ_FLEX_4], [KB_TORQ_EXT_1, KB_TORQ_EXT_2, KB_TORQ_EXT_3, KB_TORQ_EXT_4], [KB_TORQ_NET_1, KB_TORQ_NET_2, KB_TORQ_NET_3, KB_TORQ_NET_4]),
    [KB_ANGLE_1, KB_ANGLE_2, KB_ANGLE_3, KB_ANGLE_4],
)
my_series = (
    ([MY_CTRL_FLEX_1, MY_CTRL_FLEX_2, MY_CTRL_FLEX_3, MY_CTRL_FLEX_4], [MY_CTRL_EXT_1, MY_CTRL_EXT_2, MY_CTRL_EXT_3, MY_CTRL_EXT_4]),
    ([MY_ACT_FLEX_1, MY_ACT_FLEX_2, MY_ACT_FLEX_3, MY_ACT_FLEX_4], [MY_ACT_EXT_1, MY_ACT_EXT_2, MY_ACT_EXT_3, MY_ACT_EXT_4]),
    ([MY_FORCE_FLEX_1, MY_FORCE_FLEX_2, MY_FORCE_FLEX_3, MY_FORCE_FLEX_4], [MY_FORCE_EXT_1, MY_FORCE_EXT_2, MY_FORCE_EXT_3, MY_FORCE_EXT_4]),
    ([MY_TORQ_FLEX_1, MY_TORQ_FLEX_2, MY_TORQ_FLEX_3, MY_TORQ_FLEX_4], [MY_TORQ_EXT_1, MY_TORQ_EXT_2, MY_TORQ_EXT_3, MY_TORQ_EXT_4], [MY_TORQ_NET_1, MY_TORQ_NET_2, MY_TORQ_NET_3, MY_TORQ_NET_4]),
    [MY_ANGLE_1, MY_ANGLE_2, MY_ANGLE_3, MY_ANGLE_4],
)

panel("Keyboard Control", (445.5, 21.7), KB_ROWS, kb_series, KB_TRIALS, KB_TARGET_ANGLE,
      (461.0, 741.0), 5.6,
      [("Flexor Muscle", RED, 175.7, 187.0), ("Extensor Muscle", BLUE, 497.3, 183.7),
       ("Net Torque", BLACK, 344.0, 436.0)], True)
panel("Myoelectric Control", (446.0, 851.7), MY_ROWS, my_series, MY_TRIALS, MY_TARGET_ANGLE,
      (465.0, 1586.0), 8.0,
      [("Flexor Muscle", RED, 175.7, 1014.3), ("Extensor Muscle", BLUE, 497.3, 1011.0),
       ("Net Torque", BLACK, 337.3, 1285.0)], False)

fig.savefig("out.png", dpi=100, facecolor="white")
